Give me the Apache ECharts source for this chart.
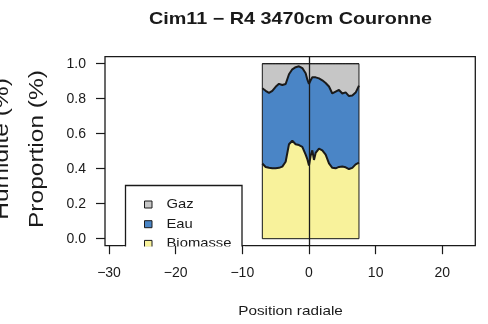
<!DOCTYPE html>
<html>
<head>
<meta charset="utf-8">
<script src="https://cdn.jsdelivr.net/npm/echarts@6/dist/echarts.min.js"></script>
<style>
  html, body { margin: 0; padding: 0; background: #fff; }
  #main { width: 488px; height: 324px; }
</style>
</head>
<body>
<div id="main"></div>
<script>
// positions radiales (cm) et proportions
var positions = [-7, -6.5, -6, -5.5, -5, -4.5, -4, -3.5, -3, -2.5, -2, -1.5, -1, -0.5, -0.25, 0,
  0.25, 0.5, 0.75, 1, 1.5, 2, 2.5, 3, 3.5, 4, 4.5, 5, 5.5, 6, 6.5, 7, 7.5];
var biomasse = [0.43, 0.41, 0.405, 0.402, 0.403, 0.405, 0.412, 0.44, 0.54, 0.56, 0.54, 0.535, 0.525, 0.48, 0.455, 0.418,
  0.475, 0.505, 0.45, 0.49, 0.515, 0.505, 0.48, 0.43, 0.405, 0.402, 0.41, 0.412, 0.408, 0.398, 0.405, 0.425, 0.435];
var eau = [0.43, 0.435, 0.428, 0.443, 0.465, 0.48, 0.466, 0.444, 0.40, 0.408, 0.44, 0.45, 0.45, 0.465, 0.455, 0.467,
  0.43, 0.417, 0.476, 0.432, 0.401, 0.40, 0.41, 0.44, 0.425, 0.438, 0.44, 0.418, 0.428, 0.417, 0.413, 0.41, 0.44];
var gaz = [0.14, 0.155, 0.167, 0.155, 0.132, 0.115, 0.122, 0.116, 0.06, 0.032, 0.02, 0.015, 0.025, 0.055, 0.09, 0.115,
  0.095, 0.078, 0.074, 0.078, 0.084, 0.095, 0.11, 0.13, 0.17, 0.16, 0.15, 0.17, 0.164, 0.185, 0.182, 0.165, 0.125];
var xTicks = [-30, -20, -10, 0, 10, 20];
var yTicks = [0, 0.2, 0.4, 0.6, 0.8, 1.0];
var legendNames = ['Gaz', 'Eau', 'Biomasse'];
var colors = { Gaz: '#c6c6c6', Eau: '#4a85c6', Biomasse: '#f8f29b' };

var myChart = echarts.init(document.getElementById('main'), null, { renderer: 'canvas' });

// cumul des couches (biomasse en bas, puis eau, puis gaz)
function cumul(layers) {
  return positions.map(function (x, i) {
    var s = 0;
    layers.forEach(function (l) { s += l[i]; });
    return [x, s];
  });
}
var x0 = positions[0], x1 = positions[positions.length - 1];
var font = '"Liberation Sans", Arial, sans-serif';

function stretchedText(txt, x, y, size, opts) {
  opts = opts || {};
  return {
    type: 'text', x: x, y: y, z: opts.z || 5,
    rotation: opts.rotation || 0,
    scaleX: 1, scaleY: 0.82,
    style: {
      text: txt,
      font: (opts.bold ? 'bold ' : '') + size + 'px ' + font,
      fill: '#1a1a1a',
      textAlign: opts.align || 'center',
      textVerticalAlign: 'middle'
    }
  };
}

var graphics = [
  stretchedText('Cim11 \u2212 R4 3470cm Couronne', 290.5, 19.5, 19.8, { bold: true }),
  stretchedText('Position radiale', 290.5, 312, 15.3),
  stretchedText('Proportion (%)', 37.5, 149, 24.5, { rotation: Math.PI / 2 }),
  stretchedText('Humidit\u00e9 (%)', 2.5, 149, 24.5, { rotation: Math.PI / 2 }),
  // cadre de la légende
  { type: 'rect', z: 5, shape: { x: 125.5, y: 185.5, width: 116.5, height: 70 },
    style: { fill: '#fff', stroke: '#1a1a1a', lineWidth: 1.3 } }
];
legendNames.forEach(function (name, i) {
  var cy = 204.5 + i * 19.7;
  graphics.push({ type: 'rect', z: 6, shape: { x: 144.5, y: cy - 3.5, width: 7.5, height: 7 },
    style: { fill: colors[name], stroke: '#1a1a1a', lineWidth: 1 } });
  graphics.push(stretchedText(name, 166.5, cy, 14.8, { align: 'left', z: 6 }));
});
// la légende est coupée au bord de la zone de tracé
graphics.push({ type: 'rect', z: 7, shape: { x: 123, y: 246.6, width: 122, height: 14 },
  style: { fill: '#fff' } });

function layer(name, data, width, z) {
  return {
    name: name, type: 'line', data: data, z: z,
    symbol: 'none', lineStyle: { color: '#1a1a1a', width: width },
    areaStyle: { color: colors[name], opacity: 1, origin: 0 }
  };
}

var option = {
  animation: false,
  backgroundColor: '#fff',
  grid: {
    left: 105, right: 12.7, top: 56.7, bottom: 78.3,
    show: true, borderColor: '#1a1a1a', borderWidth: 1.3, z: 0
  },
  xAxis: {
    type: 'value', min: -30.6, max: 24.95, z: 10,
    axisLine: { show: false, onZero: false },
    splitLine: { show: false },
    axisTick: { show: true, length: 8.5, customValues: xTicks, lineStyle: { color: '#1a1a1a', width: 1.2 } },
    axisLabel: {
      customValues: xTicks, margin: 20, fontSize: 14, fontFamily: font, color: '#1a1a1a',
      formatter: function (v) { return v < 0 ? '\u2212' + Math.abs(v) : String(v); }
    }
  },
  yAxis: {
    type: 'value', min: -0.04, max: 1.04, z: 10,
    axisLine: { show: false, onZero: false },
    splitLine: { show: false },
    axisTick: { show: true, length: 9, customValues: yTicks, lineStyle: { color: '#1a1a1a', width: 1.2 } },
    axisLabel: {
      customValues: yTicks, margin: 19, fontSize: 14, fontFamily: font, color: '#1a1a1a',
      formatter: function (v) { return v.toFixed(1); }
    }
  },
  graphic: graphics,
  series: [
    layer('Gaz', cumul([biomasse, eau, gaz]), 1, 2),
    layer('Eau', cumul([biomasse, eau]), 2, 3),
    layer('Biomasse', cumul([biomasse]), 2, 4),
    {
      // contour du polygone + ligne verticale à 0
      name: 'contour', type: 'line', data: [[x0, 0], [x0, 1], [x1, 1], [x1, 0], [x0, 0]],
      symbol: 'none', lineStyle: { color: '#1a1a1a', width: 1 }, z: 5,
      markLine: {
        silent: true, symbol: 'none', label: { show: false },
        lineStyle: { color: '#1a1a1a', width: 1.3, type: 'solid' },
        data: [{ xAxis: 0 }]
      }
    }
  ]
};

myChart.setOption(option);
</script>
</body>
</html>
